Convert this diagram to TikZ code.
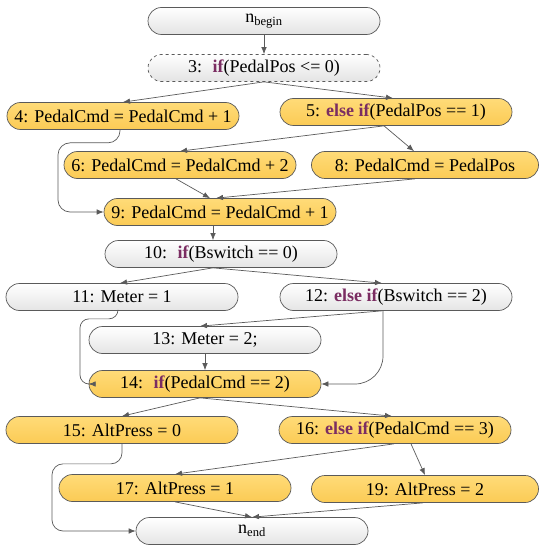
\documentclass[tikz,border=0pt]{standalone}
\usepackage{fontspec}
\setmainfont{Liberation Serif}
\usetikzlibrary{arrows.meta,calc}

\definecolor{stmtyellow}{HTML}{FBCB55}
\definecolor{stmtyellowtop}{HTML}{FFDB78}
\definecolor{stmtgray}{HTML}{E4E4E4}
\definecolor{edgegray}{HTML}{5A5A5A}
\definecolor{kwpurple}{HTML}{7B2D62}

\newcommand{\kw}[1]{\textcolor{kwpurple}{\textbf{#1}}}

\begin{document}
\begin{tikzpicture}[
    x=1pt, y=-1pt,
    stmt/.style={rectangle, draw=edgegray, line width=0.7pt, rounded corners=13.5pt,
        minimum height=27pt, minimum width=232pt, inner sep=0pt, align=center,
        font=\fontsize{18}{20}\selectfont},
    plain/.style={stmt, top color=white, bottom color=stmtgray},
    hot/.style={stmt, top color=stmtyellowtop, bottom color=stmtyellow},
    arrow/.style={-{Latex[length=7pt,width=5.5pt]}, draw=edgegray, line width=0.7pt}
]
\useasboundingbox (0,0) rectangle (539,545);

\node[plain] (begin) at (264,21) {n\textsubscript{begin}};
\node[plain, dashed] (n3) at (264,68) {3:~ \kw{if}(PedalPos <= 0)};
\node[hot] (n4) at (123,116) {4: PedalCmd = PedalCmd + 1};
\node[hot] (n5) at (396,112) {5: \kw{else if}(PedalPos == 1)};
\node[hot] (n6) at (180,165) {6: PedalCmd = PedalCmd + 2};
\node[hot, minimum width=227pt] (n8) at (425,165) {8: PedalCmd = PedalPos};
\node[hot] (n9) at (220,212) {9: PedalCmd = PedalCmd + 1};
\node[plain] (n10) at (221,254) {10:~ \kw{if}(Bswitch == 0)};
\node[plain] (n11) at (122,297) {11: Meter = 1};
\node[plain] (n12) at (396,297) {12: \kw{else if}(Bswitch == 2)};
\node[plain] (n13) at (205,340) {13: Meter = 2;};
\node[hot] (n14) at (205,384) {14:~ \kw{if}(PedalCmd == 2)};
\node[hot] (n15) at (122,430) {15: AltPress = 0};
\node[hot] (n16) at (395,430) {16: \kw{else if}(PedalCmd == 3)};
\node[hot] (n17) at (175,488) {17: AltPress = 1};
\node[hot, minimum width=227pt] (n19) at (425,489) {19: AltPress = 2};
\node[plain] (end) at (252,531) {n\textsubscript{end}};

% control flow
\draw[arrow] (begin) -- (n3);
\draw[arrow] (n3.south) -- (n4.north);
\draw[arrow] (n3.south) -- ([xshift=-3pt]n5.north);
\draw[arrow, rounded corners=12pt] ([xshift=-3pt]n4.south) |- ($(n4.south)+(-65,13)$) |- (n9.west);
\draw[arrow] ([xshift=-12pt]n5.south) -- (n6.north);
\draw[arrow] ([xshift=-12pt]n5.south) -- ([xshift=-11pt]n8.north);
\draw[arrow] ([xshift=-4pt]n6.south) -- ([xshift=-10pt]n9.north);
\draw[arrow] ([xshift=-10pt]n8.south) -- ([xshift=-4pt]n9.north);
\draw[arrow] ([xshift=-7pt]n9.south) -- ([xshift=-8pt]n10.north);
\draw[arrow] ([xshift=-8pt]n10.south) -- ([xshift=-2pt]n11.north);
\draw[arrow] ([xshift=-8pt]n10.south) -- ([xshift=-14pt]n12.north);
\draw[arrow, rounded corners=9pt] ([xshift=-4pt]n11.south) |- ($(n11.south)+(-42,8)$) |- (n14.west);
\draw[arrow] ([xshift=-14pt]n12.south) -- ([xshift=-5pt]n13.north);
\draw[arrow, rounded corners=28pt] ([xshift=-13pt]n12.south) |- (n14.east);
\draw[arrow] (n13) -- (n14);
\draw[arrow] ([xshift=-5pt]n14.south) -- (n15.north);
\draw[arrow] ([xshift=-5pt]n14.south) -- ([xshift=-3pt]n16.north);
\draw[arrow, rounded corners=11pt] (n15.south) |- ($(n15.south)+(-70,20)$) |- (end.west);
\draw[arrow] ([xshift=-1pt]n16.south) -- (n17.north);
\draw[arrow] ([xshift=16pt]n16.south) -- (n19.north);
\draw[arrow] (n17.south) -- (end.north);
\draw[arrow] ([xshift=-2pt]n19.south) -- (end.north);

\end{tikzpicture}
\end{document}
